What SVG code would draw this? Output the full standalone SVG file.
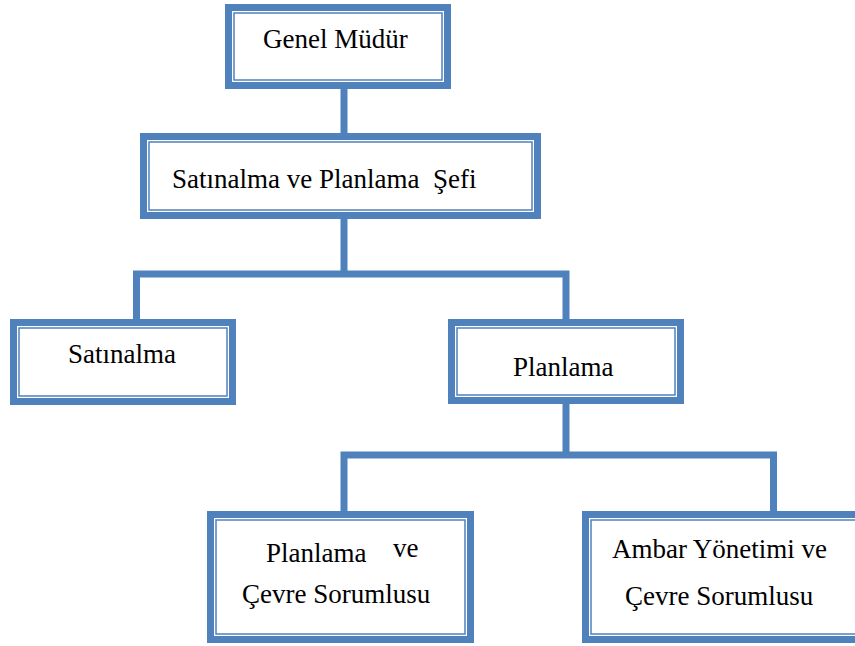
<svg xmlns="http://www.w3.org/2000/svg" width="855" height="646" viewBox="0 0 855 646">
  <style>
    .frame { fill: #ffffff; stroke: #4f81bd; stroke-width: 7; }
    .rule { fill: none; stroke: #4f81bd; stroke-width: 1.5; }
    .link { fill: none; stroke: #4f81bd; stroke-width: 7; stroke-linejoin: miter; }
    .label { font-family: "Liberation Serif", "Times New Roman", serif; font-size: 27px; fill: #000000; white-space: pre; }
  </style>
  <rect width="855" height="646" fill="#ffffff"/>

  <!-- connectors -->
  <g id="connectors">
    <path class="link" d="M344 88 V134"/>
    <path class="link" d="M344 218 V274"/>
    <path class="link" d="M136.5 320 V274 H566 V320"/>
    <path class="link" d="M566 403 V455"/>
    <path class="link" d="M344 512 V455 H773.5 V512"/>
  </g>

  <!-- Genel Müdür -->
  <g id="genel-mudur">
    <rect class="frame" x="228.5" y="7.5" width="219" height="78"/>
    <rect class="rule" x="234" y="13" width="208" height="67"/>
    <text class="label" x="263" y="48" font-size="28">Genel Müdür</text>
  </g>

  <!-- Satınalma ve Planlama Şefi -->
  <g id="sef">
    <rect class="frame" x="143.5" y="136.5" width="394" height="79"/>
    <rect class="rule" x="149" y="142" width="383" height="68"/>
    <text class="label" x="172" y="188" xml:space="preserve">Satınalma ve Planlama  Şefi</text>
  </g>

  <!-- Satınalma -->
  <g id="satinalma">
    <rect class="frame" x="13.5" y="322.5" width="219" height="79"/>
    <rect class="rule" x="19" y="328" width="208" height="68"/>
    <text class="label" x="68" y="363">Satınalma</text>
  </g>

  <!-- Planlama -->
  <g id="planlama">
    <rect class="frame" x="451.5" y="322.5" width="229" height="78"/>
    <rect class="rule" x="457" y="328" width="218" height="67"/>
    <text class="label" x="513" y="376">Planlama</text>
  </g>

  <!-- Planlama ve Çevre Sorumlusu -->
  <g id="planlama-cevre">
    <rect class="frame" x="210.5" y="514.5" width="260" height="125"/>
    <rect class="rule" x="216" y="520" width="249" height="114"/>
    <text class="label" x="266" y="562">Planlama</text>
    <text class="label" x="393" y="557">ve</text>
    <text class="label" x="242" y="603">Çevre Sorumlusu</text>
  </g>

  <!-- Ambar Yönetimi ve Çevre Sorumlusu -->
  <g id="ambar-cevre">
    <rect class="frame" x="585.5" y="514.5" width="300" height="125"/>
    <rect class="rule" x="591" y="520" width="289" height="114"/>
    <text class="label" x="612" y="558">Ambar Yönetimi ve</text>
    <text class="label" x="625" y="605">Çevre Sorumlusu</text>
  </g>
</svg>
